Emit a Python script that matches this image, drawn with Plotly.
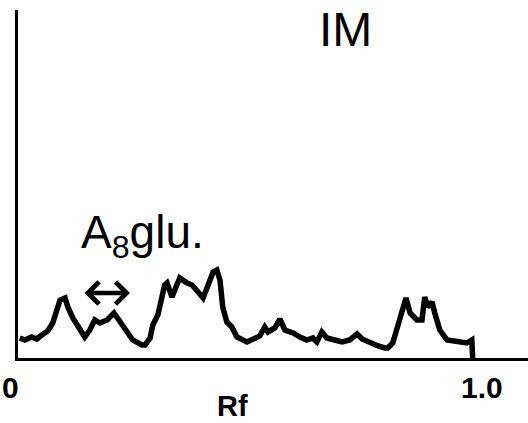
import plotly.graph_objects as go

# Rf positions and detector response (arbitrary units)
rf = [0.002, 0.013, 0.028, 0.039, 0.050, 0.063, 0.074, 0.083, 0.090, 0.101, 0.107, 0.118,
      0.133, 0.144, 0.155, 0.166, 0.177, 0.193, 0.208, 0.221, 0.236, 0.249, 0.269, 0.276,
      0.287, 0.293, 0.304, 0.313, 0.319, 0.324, 0.335, 0.341, 0.352, 0.368, 0.379, 0.392,
      0.403, 0.414, 0.425, 0.433, 0.440, 0.446, 0.455, 0.466, 0.477, 0.499, 0.516, 0.527,
      0.538, 0.545, 0.560, 0.571, 0.582, 0.600, 0.615, 0.630, 0.643, 0.652, 0.663, 0.674,
      0.691, 0.707, 0.724, 0.740, 0.751, 0.768, 0.786, 0.801, 0.807, 0.818, 0.829, 0.840,
      0.847, 0.856, 0.871, 0.882, 0.888, 0.895, 0.904, 0.910, 0.921, 0.937, 0.958, 0.980,
      0.991, 0.993]
resp = [20, 18, 21, 19, 23, 27, 35, 48, 58, 60, 51, 40,
        30, 21, 28, 38, 35, 38, 45, 36, 28, 18, 13, 13,
        20, 33, 43, 58, 73, 75, 61, 68, 80, 75, 73, 66,
        60, 73, 86, 88, 78, 51, 36, 31, 21, 16, 20, 22,
        31, 26, 30, 39, 28, 25, 21, 18, 20, 16, 26, 20,
        18, 16, 18, 24, 19, 15, 12, 10, 10, 15, 31, 51,
        60, 45, 38, 38, 61, 51, 56, 45, 28, 18, 16, 15,
        18, 0]

x_ticks = [0, 1.0]
x_tick_text = ["0", "1.0"]

W, H = 528, 423
L, R, T, B = 18, 0, 10, 65
pw, ph = W - L - R, H - T - B


def px(x):
    return (x - L) / pw


def py(y):
    return (H - B - y) / ph


fig = go.Figure()
fig.add_trace(go.Scatter(x=rf, y=resp, mode="lines",
                         line=dict(color="black", width=5.5, shape="linear"),
                         hoverinfo="skip", showlegend=False))

font = "Liberation Sans, Arial, sans-serif"


def label(text, x, y, size, family=font, **kw):
    d = dict(text=text, x=px(x), y=py(y), xref="paper", yref="paper",
             xanchor="center", yanchor="middle", showarrow=False,
             font=dict(size=size, color="black", family=family))
    d.update(kw)
    return d


ann = [
    label("IM", 345, 29, 48),
    label("A<sub>8</sub>glu.", 142, 236, 46),
    label("<b>" + x_tick_text[0] + "</b>", 10, 387, 30),
    label("<b>" + x_tick_text[1] + "</b>", 482, 387, 30),
    label("<b>Rf</b>", 232, 406, 29),
    # double-headed range arrow for the A8 glu. region
    dict(text="", x=px(130), y=py(293), xref="paper", yref="paper",
         showarrow=True, ax=-47, ay=0, axref="pixel", ayref="pixel",
         arrowside="end+start", arrowhead=4, startarrowhead=4,
         arrowwidth=4.5, arrowsize=0.95, startarrowsize=0.95,
         arrowcolor="black", standoff=0, startstandoff=0),
]

fig.update_layout(
    width=W, height=H,
    margin=dict(l=L, r=R, t=T, b=B),
    paper_bgcolor="white", plot_bgcolor="white",
    xaxis=dict(range=[-0.002, 1.114], showgrid=False, zeroline=False,
               showticklabels=False, ticks="", showline=True,
               linecolor="black", linewidth=3),
    yaxis=dict(range=[0, 348], showgrid=False, zeroline=False,
               showticklabels=False, ticks="", showline=True,
               linecolor="black", linewidth=3),
    annotations=ann,
)

fig.write_html("out.html")
